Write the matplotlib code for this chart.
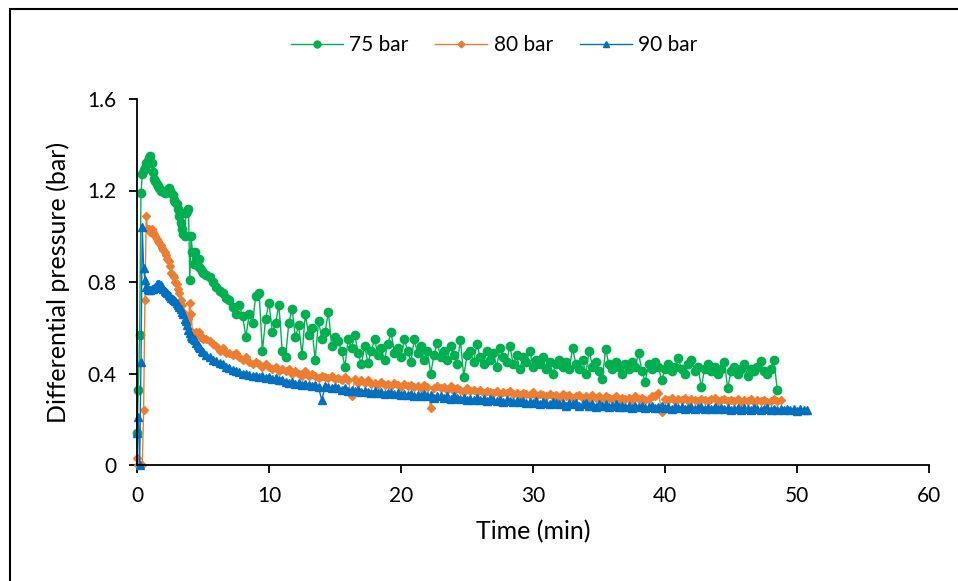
import numpy as np
import matplotlib
matplotlib.use("Agg")
import matplotlib.pyplot as plt
from matplotlib.patches import Rectangle

plt.rcParams['font.family'] = ['Lato', 'DejaVu Sans']

# ---- DATA ----
# first 5 min sampled every 0.1 min, rest every 0.25 min
HEAD_DT = 0.1
TAIL_DT = 0.25
TAIL_START = 5.25

p75_head = [0.14, 0.33, 0.57, 1.19, 1.27, 1.29, 1.30, 1.32, 1.33, 1.34,
            1.35, 1.32, 1.28, 1.25, 1.24, 1.23, 1.22, 1.21, 1.20, 1.20,
            1.20, 1.19, 1.20, 1.20, 1.21, 1.20, 1.19, 1.18, 1.16, 1.15,
            1.14, 1.12, 1.09, 1.06, 1.03, 1.01, 1.00, 1.10, 1.11, 1.12,
            0.81, 1.00, 0.93, 0.88, 0.93, 0.90, 0.87, 0.90, 0.86, 0.85,
            0.84]
p75_tail = [0.83, 0.82, 0.80, 0.78, 0.76, 0.75, 0.73, 0.72,
            0.69, 0.66, 0.70, 0.65, 0.56, 0.66, 0.62, 0.74,
            0.75, 0.50, 0.64, 0.71, 0.58, 0.62, 0.70, 0.50,
            0.47, 0.62, 0.68, 0.56, 0.61, 0.48, 0.66, 0.57,
            0.60, 0.46, 0.63, 0.55, 0.58, 0.67, 0.52, 0.56,
            0.54, 0.50, 0.43, 0.55, 0.51, 0.57, 0.49, 0.44,
            0.52, 0.445, 0.50, 0.55, 0.48, 0.51, 0.46, 0.53,
            0.58, 0.49, 0.51, 0.47, 0.55, 0.50, 0.45, 0.55,
            0.49, 0.52, 0.46, 0.50, 0.40, 0.48, 0.535, 0.47,
            0.50, 0.46, 0.52, 0.48, 0.44, 0.546, 0.386, 0.48,
            0.50, 0.45, 0.53, 0.47, 0.44, 0.50, 0.46, 0.49,
            0.43, 0.51, 0.47, 0.45, 0.52, 0.44, 0.48, 0.42,
            0.47, 0.45, 0.50, 0.43, 0.46, 0.44, 0.47, 0.42,
            0.45, 0.40, 0.44, 0.46, 0.43, 0.45, 0.42, 0.51,
            0.44, 0.42, 0.46, 0.40, 0.50, 0.43, 0.45, 0.41,
            0.375, 0.506, 0.44, 0.42, 0.45, 0.43, 0.40, 0.44,
            0.42, 0.45, 0.43, 0.49, 0.41, 0.364, 0.44, 0.42,
            0.45, 0.43, 0.37, 0.42, 0.44, 0.41, 0.43, 0.466,
            0.42, 0.40, 0.44, 0.46, 0.41, 0.43, 0.34, 0.42,
            0.44, 0.41, 0.43, 0.40, 0.42, 0.45, 0.335, 0.41,
            0.43, 0.40, 0.42, 0.44, 0.39, 0.42, 0.41, 0.43,
            0.456, 0.41, 0.40, 0.42, 0.46, 0.33]

p80_head = [0.03, 0.0, 0.0, 0.0, 0.0, 0.24, 0.72, 1.09, 1.03, 1.03,
            1.02, 1.03, 1.02, 1.01, 1.00, 0.99, 0.98, 0.97, 0.96, 0.95,
            0.94, 0.93, 0.92, 0.90, 0.89, 0.87, 0.84, 0.83, 0.82, 0.80,
            0.79, 0.77, 0.75, 0.72, 0.70, 0.67, 0.65, 0.63, 0.62, 0.64,
            0.71, 0.66, 0.58, 0.56, 0.57, 0.58, 0.57, 0.58, 0.56, 0.56,
            0.55]
p80_tail = [0.55, 0.54, 0.53, 0.52, 0.50, 0.51, 0.49, 0.49,
            0.48, 0.49, 0.47, 0.46, 0.47, 0.45, 0.44, 0.45,
            0.44, 0.43, 0.44, 0.43, 0.42, 0.43, 0.41, 0.42,
            0.41, 0.42, 0.40, 0.41, 0.40, 0.39, 0.41, 0.39,
            0.40, 0.39, 0.38, 0.39, 0.385, 0.38, 0.39, 0.375,
            0.38, 0.37, 0.385, 0.37, 0.30, 0.375, 0.36, 0.37,
            0.36, 0.37, 0.355, 0.36, 0.35, 0.365, 0.35, 0.355,
            0.345, 0.36, 0.35, 0.34, 0.355, 0.345, 0.35, 0.34,
            0.345, 0.335, 0.35, 0.34, 0.248, 0.335, 0.345, 0.335,
            0.34, 0.33, 0.345, 0.325, 0.335, 0.33, 0.32, 0.335,
            0.325, 0.33, 0.32, 0.33, 0.315, 0.325, 0.32, 0.315,
            0.325, 0.31, 0.32, 0.315, 0.325, 0.31, 0.315, 0.305,
            0.315, 0.31, 0.305, 0.32, 0.30, 0.31, 0.305, 0.30,
            0.31, 0.30, 0.305, 0.295, 0.31, 0.30, 0.305, 0.295,
            0.30, 0.305, 0.295, 0.30, 0.29, 0.305, 0.295, 0.30,
            0.29, 0.30, 0.295, 0.29, 0.30, 0.285, 0.295, 0.29,
            0.295, 0.285, 0.30, 0.29, 0.295, 0.285, 0.29, 0.30,
            0.30, 0.315, 0.233, 0.29, 0.285, 0.295, 0.28, 0.29,
            0.285, 0.295, 0.28, 0.29, 0.285, 0.28, 0.29, 0.285,
            0.28, 0.29, 0.295, 0.28, 0.285, 0.29, 0.28, 0.285,
            0.28, 0.29, 0.275, 0.285, 0.28, 0.29, 0.275, 0.285,
            0.28, 0.285, 0.275, 0.28, 0.29, 0.28, 0.285]

p90_head = [0.14, 0.21, 0.0, 0.45, 1.04, 0.86, 0.81, 0.78, 0.77, 0.765,
            0.765, 0.77, 0.77, 0.775, 0.78, 0.79, 0.79, 0.79, 0.785, 0.78,
            0.77, 0.76, 0.755, 0.75, 0.745, 0.74, 0.73, 0.725, 0.72, 0.715,
            0.71, 0.70, 0.69, 0.68, 0.67, 0.66, 0.64, 0.63, 0.61, 0.59,
            0.575, 0.565, 0.555, 0.55, 0.545, 0.535, 0.525, 0.515, 0.51, 0.50,
            0.495]
p90_tail = [0.48, 0.47, 0.46, 0.455, 0.445, 0.44, 0.43, 0.425,
            0.415, 0.41, 0.405, 0.40, 0.40, 0.395, 0.39, 0.39,
            0.385, 0.39, 0.38, 0.385, 0.375, 0.38, 0.37, 0.37,
            0.365, 0.36, 0.365, 0.355, 0.36, 0.35, 0.355, 0.35,
            0.345, 0.35, 0.34, 0.284, 0.345, 0.34, 0.335, 0.34,
            0.335, 0.33, 0.335, 0.325, 0.33, 0.325, 0.33, 0.32,
            0.325, 0.32, 0.315, 0.325, 0.315, 0.32, 0.31, 0.315,
            0.315, 0.31, 0.315, 0.305, 0.31, 0.305, 0.31, 0.30,
            0.305, 0.30, 0.31, 0.30, 0.305, 0.295, 0.30, 0.30,
            0.295, 0.30, 0.29, 0.30, 0.295, 0.29, 0.295, 0.285,
            0.29, 0.285, 0.295, 0.285, 0.29, 0.28, 0.29, 0.285,
            0.28, 0.285, 0.275, 0.285, 0.28, 0.275, 0.28, 0.275,
            0.28, 0.27, 0.275, 0.27, 0.28, 0.265, 0.275, 0.27,
            0.265, 0.275, 0.27, 0.265, 0.27, 0.26, 0.27, 0.265,
            0.27, 0.26, 0.265, 0.27, 0.26, 0.265, 0.255, 0.265,
            0.26, 0.265, 0.255, 0.26, 0.265, 0.255, 0.26, 0.255,
            0.26, 0.25, 0.26, 0.255, 0.26, 0.25, 0.255, 0.26,
            0.25, 0.255, 0.26, 0.25, 0.255, 0.245, 0.255, 0.25,
            0.255, 0.245, 0.25, 0.255, 0.245, 0.25, 0.255, 0.245,
            0.25, 0.245, 0.255, 0.245, 0.25, 0.245, 0.25, 0.24,
            0.245, 0.25, 0.24, 0.25, 0.245, 0.24, 0.25, 0.245,
            0.24, 0.245, 0.25, 0.24, 0.245, 0.24, 0.245, 0.24,
            0.245, 0.24, 0.245, 0.235, 0.245, 0.24, 0.24]

labels = ["75 bar", "80 bar", "90 bar"]
colors = ["#00B050", "#ED7D31", "#0070C0"]
markers = ["o", "D", "^"]
msizes = [6.0, 4.2, 5.6]
leg_msizes = [5.0, 3.4, 4.6]


def series(head, tail):
    t = np.concatenate([np.arange(len(head)) * HEAD_DT,
                        TAIL_START + np.arange(len(tail)) * TAIL_DT])
    return t, np.array(head + tail)


data = [series(p75_head, p75_tail), series(p80_head, p80_tail),
        series(p90_head, p90_tail)]

# ---- PLOT ----
fig = plt.figure(figsize=(9.58, 5.81), dpi=100)
ax = fig.add_axes([137 / 958, 1 - 465 / 581, 792 / 958, 366 / 581])

handles = []
for (t, p), lab, c, m, ms, lms in zip(data, labels, colors, markers,
                                      msizes, leg_msizes):
    ax.plot(t, p, color=c, lw=1.0, marker=m, ms=ms, mfc=c, mec=c,
            clip_on=False)
    # legend proxy with the smaller Excel-style legend marker
    h, = ax.plot([], [], color=c, lw=1.0, marker=m, ms=lms, mfc=c, mec=c,
                 label=lab)
    handles.append(h)

ax.set_xlim(0, 60)
ax.set_ylim(0, 1.6)
ax.set_xticks(np.arange(0, 61, 10))
ax.set_yticks([0, 0.4, 0.8, 1.2, 1.6])
ax.set_yticklabels(["0", "0.4", "0.8", "1.2", "1.6"])
for side in ["top", "right"]:
    ax.spines[side].set_visible(False)
for side in ["left", "bottom"]:
    ax.spines[side].set_linewidth(1.3)
ax.tick_params(direction="out", length=6, width=1.3, labelsize=15, pad=9)

ax.set_xlabel("Time (min)", fontsize=18, labelpad=10)
ax.set_ylabel("Differential pressure (bar)", fontsize=18, labelpad=12)

fig.legend(handles=handles, loc="center",
           bbox_to_anchor=(494 / 958, 1 - 45 / 581),
           ncol=3, frameon=False, fontsize=15, handlelength=2.5,
           handletextpad=0.3, columnspacing=1.3)

# outer chart border
fig.patches.append(Rectangle((9.5 / 958, -0.1), 1.2, 1.1 - 8.5 / 581,
                             transform=fig.transFigure, fill=False,
                             edgecolor="black", lw=1.5))

fig.savefig("out.png", dpi=100)
